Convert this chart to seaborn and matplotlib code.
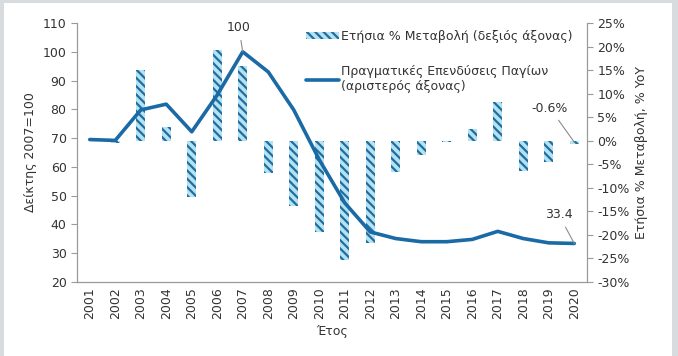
import numpy as np
import pandas as pd
import matplotlib
matplotlib.use("Agg")
import matplotlib.pyplot as plt
import matplotlib.patches as mpatches
from matplotlib.lines import Line2D
import seaborn as sns

# Data
years = [str(y) for y in range(2001, 2021)]
index_2007 = [69.5, 69.2, 79.8, 81.8, 72.2, 85.0, 100.0, 93.0, 79.8, 62.5,
              47.5, 37.4, 35.1, 34.0, 34.0, 34.8, 37.6, 35.1, 33.6, 33.4]
yoy_change = [np.nan, -0.4, 15.0, 3.0, -12.0, 19.3, 15.9, -6.9, -13.9, -19.4,
              -25.3, -21.7, -6.6, -3.1, -0.3, 2.4, 8.2, -6.4, -4.5, -0.6]

df = pd.DataFrame({"year": years, "index": index_2007, "yoy": yoy_change})

line_color = "#1a6aa6"
hatch_color = "#1f6e9f"
bar_face = "#b5e2f2"
spine_color = "#9a9a9a"
text_color = "#333333"

sns.set_style("white")
plt.rcParams["font.family"] = ["DejaVu Sans"]
plt.rcParams["hatch.linewidth"] = 1.6

fig = plt.figure(figsize=(6.78, 3.56), dpi=100)
# light grey frame around the chart, as in the source image
fig.patch.set_facecolor("#d9dcdf")
fig.add_artist(mpatches.Rectangle((4 / 678, 0), 668 / 678, 353 / 356,
                                  transform=fig.transFigure, facecolor="white",
                                  edgecolor="none", zorder=0))

ax = fig.add_axes([77 / 678, 1 - 282 / 356, 510 / 678, 259 / 356])
ax2 = ax.twinx()

# bars on the right axis
sns.barplot(data=df, x="year", y="yoy", ax=ax2, color=bar_face, width=0.36,
            saturation=1, edgecolor=hatch_color, linewidth=0,
            hatch="\\\\\\\\")
for p in ax2.patches:
    p.set_hatch("\\\\\\\\")
    p.set_edgecolor(hatch_color)
    p.set_linewidth(0)

# line on the left axis, drawn above the bars
sns.lineplot(data=df, x="year", y="index", ax=ax, color=line_color,
             linewidth=2.6, sort=False)
ax.set_zorder(ax2.get_zorder() + 1)
ax.patch.set_visible(False)

ax.set_xlim(-0.5, 19.5)
ax.set_ylim(20, 110)
ax.set_yticks(range(20, 111, 10))
ax2.set_ylim(-30, 25)
ax2.set_yticks(range(-30, 26, 5))
ax2.set_yticklabels([f"{v}%" for v in range(-30, 26, 5)])

ax.set_xticks(range(20))
ax.set_xticklabels(years, rotation=90)
ax.set_xticks(np.arange(-0.5, 20, 1), minor=True)
ax.tick_params(axis="x", which="major", length=0, pad=4)
ax.tick_params(axis="x", which="minor", length=4, color=spine_color, direction="out")
ax.tick_params(axis="y", length=4, color=spine_color, direction="out")
ax2.tick_params(axis="y", length=4, color=spine_color, direction="out")
ax2.tick_params(axis="x", length=0)

for a in (ax, ax2):
    a.tick_params(labelsize=9, labelcolor=text_color)
    for s in a.spines.values():
        s.set_color(spine_color)
        s.set_linewidth(0.9)
    a.spines["top"].set_visible(False)
ax.spines["right"].set_visible(False)
ax2.spines["left"].set_visible(False)
ax2.spines["bottom"].set_visible(False)

ax.set_xlabel("Έτος", fontsize=9, color=text_color, labelpad=4)
ax2.set_xlabel("")
ax.set_ylabel("Δείκτης 2007=100", fontsize=9, color=text_color, labelpad=4)
ax2.set_ylabel("Ετήσια % Μεταβολή, % YoY", fontsize=9, color=text_color, labelpad=4)

# annotations
arrow = dict(arrowstyle="-", color="#8c8c8c", lw=0.8, shrinkA=2, shrinkB=0)
ax.annotate("100", xy=(6, 100), xytext=(5.85, 108.3), ha="center", va="center",
            fontsize=9, color=text_color, arrowprops=arrow)
ax.annotate("33.4", xy=(19, 33.4), xytext=(18.4, 43.3), ha="center", va="center",
            fontsize=9, color=text_color, arrowprops=arrow)
ax2.annotate("-0.6%", xy=(19, -0.3), xytext=(18.05, 6.9), ha="center", va="center",
             fontsize=9, color=text_color, arrowprops=arrow)

handles = [
    mpatches.Patch(facecolor=bar_face, edgecolor=hatch_color, linewidth=0,
                   hatch="\\\\\\\\"),
    Line2D([0], [0], color=line_color, linewidth=2.6),
]
labels = ["Ετήσια % Μεταβολή (δεξιός άξονας)",
          "Πραγματικές Επενδύσεις Παγίων\n(αριστερός άξονας)"]
leg = ax.legend(handles, labels, loc="upper left", bbox_to_anchor=(0.44, 0.993),
                frameon=False, fontsize=9, handlelength=2.6, handleheight=0.5,
                handletextpad=0.2, labelspacing=1.8, borderaxespad=0)
for t in leg.get_texts():
    t.set_color(text_color)

fig.savefig("out.png", dpi=100)
